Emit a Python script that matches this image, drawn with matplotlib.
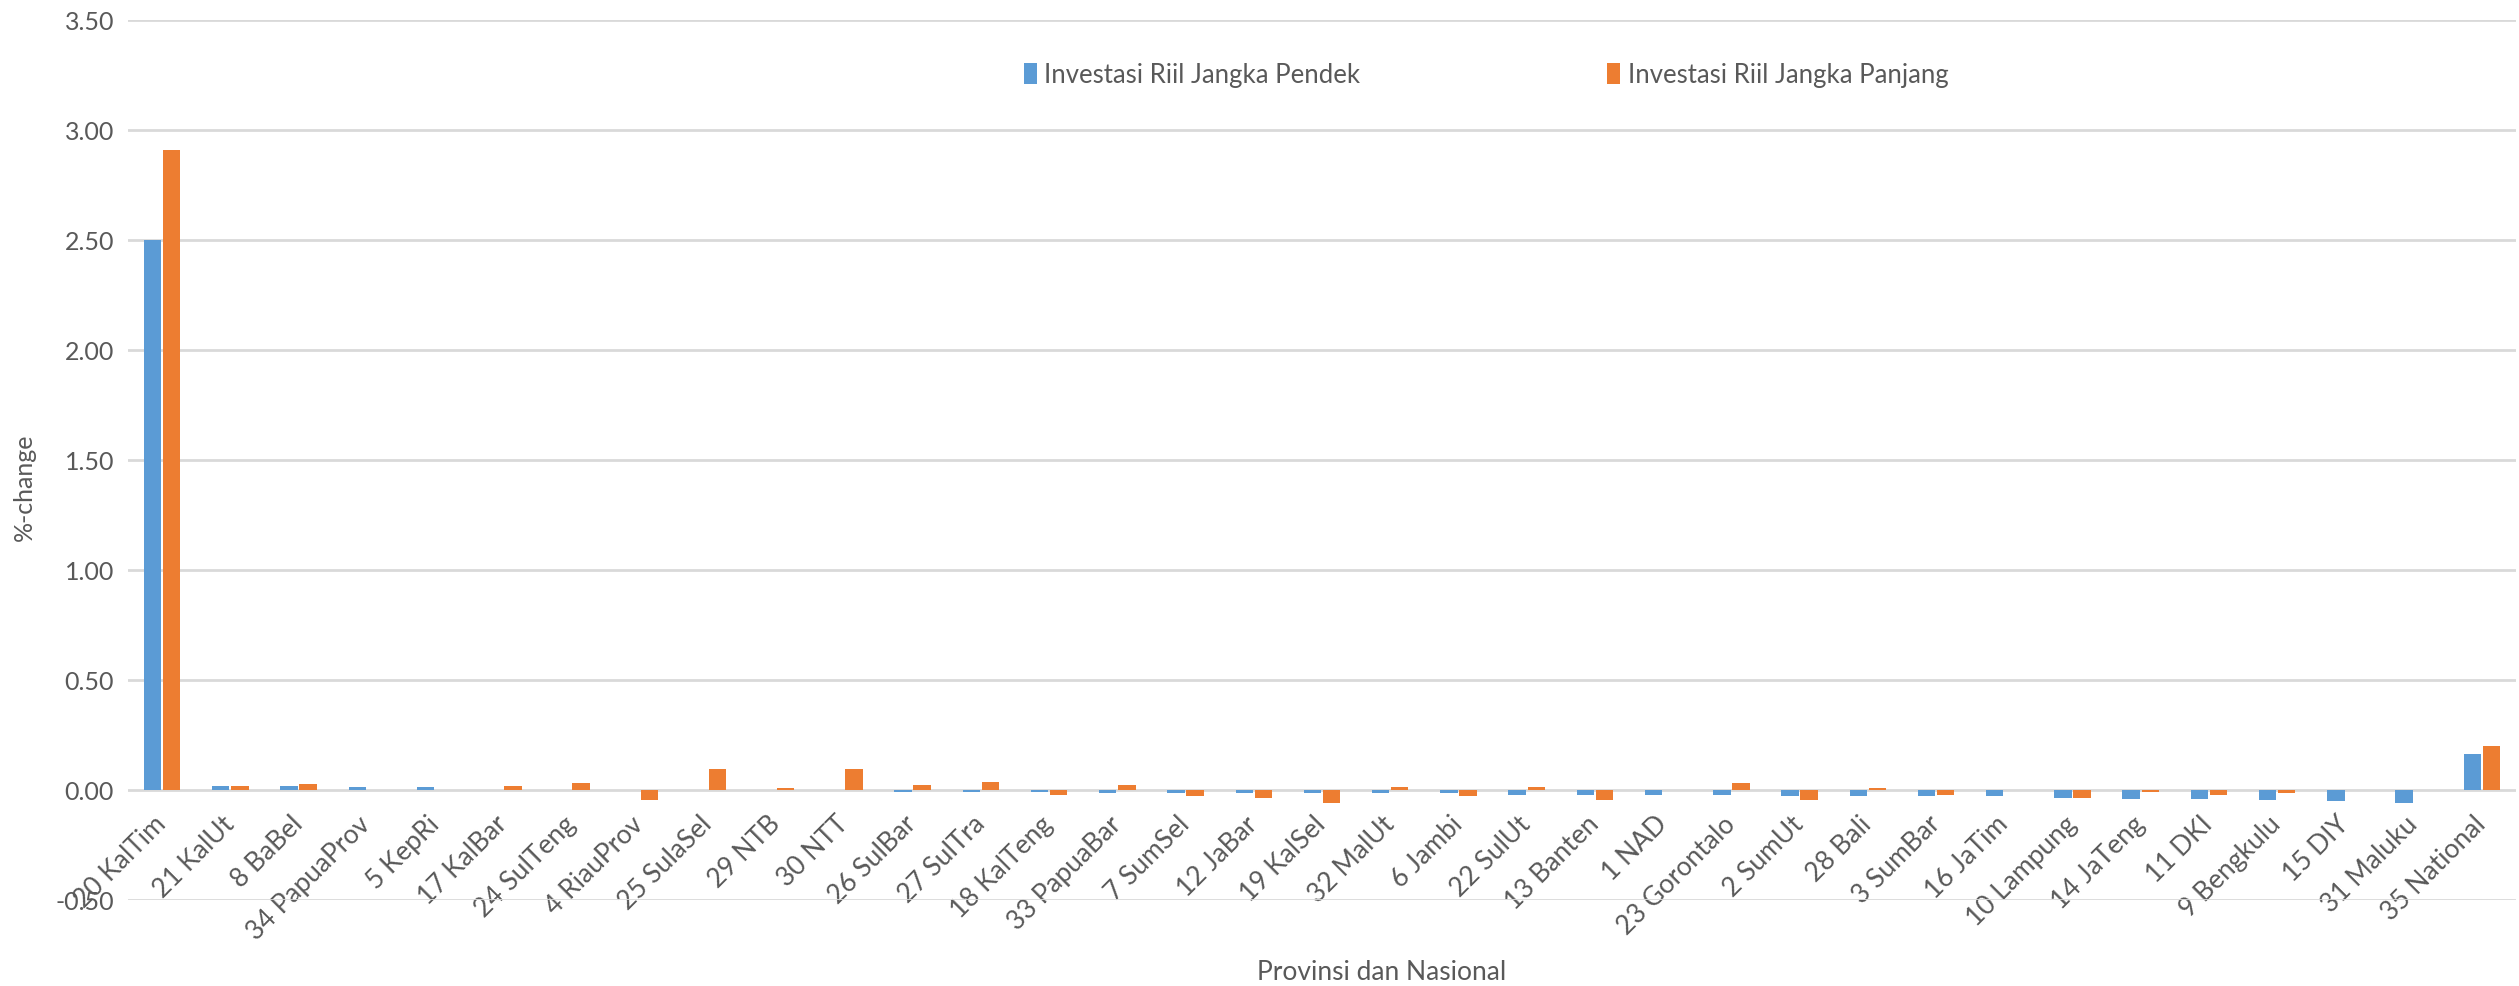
import numpy as np
import matplotlib.pyplot as plt

# provinsi, urut seperti di grafik
provinsi = ['20 KalTim', '21 KalUt', '8 BaBel', '34 PapuaProv', '5 KepRi', '17 KalBar',
            '24 SulTeng', '4 RiauProv', '25 SulaSel', '29 NTB', '30 NTT', '26 SulBar',
            '27 SulTra', '18 KalTeng', '33 PapuaBar', '7 SumSel', '12 JaBar', '19 KalSel',
            '32 MalUt', '6 Jambi', '22 SulUt', '13 Banten', '1 NAD', '23 Gorontalo',
            '2 SumUt', '28 Bali', '3 SumBar', '16 JaTim', '10 Lampung', '14 JaTeng',
            '11 DKI', '9 Bengkulu', '15 DIY', '31 Maluku', '35 National']

pendek = [2.50, 0.020, 0.020, 0.015, 0.015, 0.0,
          0.0, 0.0, 0.0, 0.0, 0.0, -0.008,
          -0.008, -0.007, -0.015, -0.015, -0.015, -0.015,
          -0.015, -0.015, -0.022, -0.022, -0.022, -0.022,
          -0.027, -0.027, -0.027, -0.027, -0.035, -0.040,
          -0.040, -0.045, -0.052, -0.058, 0.165]

panjang = [2.91, 0.020, 0.027, 0.0, 0.0, 0.020,
           0.033, -0.045, 0.095, 0.010, 0.095, 0.025,
           0.038, -0.022, 0.025, -0.027, -0.035, -0.058,
           0.015, -0.027, 0.015, -0.045, 0.0, 0.033,
           -0.045, 0.008, -0.022, 0.0, -0.035, -0.008,
           -0.022, -0.015, 0.0, 0.0, 0.20]

yticks = [-0.5, 0.0, 0.5, 1.0, 1.5, 2.0, 2.5, 3.0, 3.5]

abu = '#595959'
plt.rcParams['font.family'] = ['Lato', 'DejaVu Sans']

fig = plt.figure(figsize=(25.19, 9.86), dpi=100)
ax = fig.add_axes([128/2519, 1 - 900/986, (2516-128)/2519, (900-20)/986])

x = np.arange(len(provinsi))
w = 0.255
gap = 0.025
ax.bar(x - w/2 - gap/2, pendek, w, color='#5B9BD5', linewidth=0,
       label='Investasi Riil Jangka Pendek', zorder=3)
ax.bar(x + w/2 + gap/2, panjang, w, color='#ED7D31', linewidth=0,
       label='Investasi Riil Jangka Panjang', zorder=3)

ax.set_xlim(-0.5, len(provinsi) - 0.5)
ax.set_ylim(-0.5, 3.5)
ax.set_yticks(yticks)
ax.set_yticklabels(['%.2f' % v for v in yticks])
ax.yaxis.grid(True, color='#D9D9D9', linewidth=2, zorder=0)
ax.set_axisbelow(True)

# label kategori menempel di garis nol
ax.spines['bottom'].set_position(('data', 0))
for s in ax.spines.values():
    s.set_visible(False)
ax.set_xticks(x)
ax.set_xticklabels(provinsi, rotation=45, ha='right', va='center', rotation_mode='anchor')
ax.tick_params(axis='x', length=0, pad=22, labelsize=19, labelcolor=abu)
ax.tick_params(axis='y', length=0, pad=10, labelsize=18, labelcolor=abu)

fig.text(24/2519, 1 - 487/986, '%-change', rotation=90, ha='center', va='center',
         fontsize=18, color=abu)
fig.text(1382/2519, 1 - 972/986, 'Provinsi dan Nasional', ha='center', va='center',
         fontsize=19, color=abu)

leg = ax.legend(ncol=2, loc='center left', bbox_to_anchor=(1011/2519, 1 - 75/986),
                bbox_transform=fig.transFigure, frameon=False, fontsize=18.5, borderpad=0,
                handlelength=0.5, handleheight=0.9, handletextpad=0.3, columnspacing=9.6)
for t in leg.get_texts():
    t.set_color(abu)

fig.savefig('out.png', dpi=100, facecolor='white')
